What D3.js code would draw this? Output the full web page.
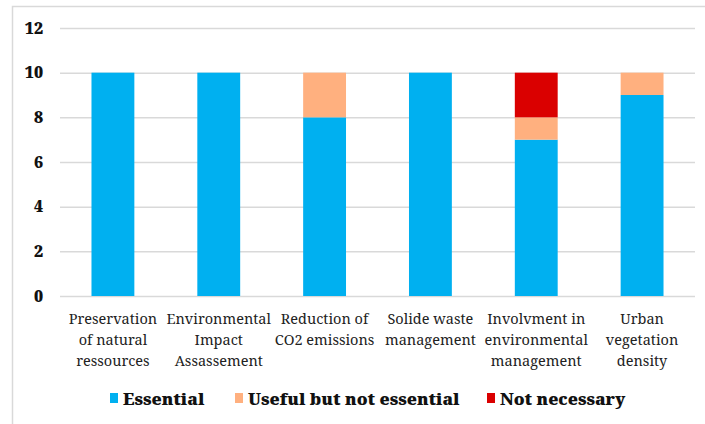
<!DOCTYPE html>
<html>
<head>
<meta charset="utf-8">
<script src="https://cdn.jsdelivr.net/npm/d3@7"></script>
<style>
  html, body { margin: 0; padding: 0; background: #fff; }
  svg { display: block; }
</style>
</head>
<body>
<svg id="chart" width="705" height="424"></svg>
<script>
// Categories (each label split into its display lines)
const categories = [
  ["Preservation", "of natural", "ressources"],
  ["Environmental", "Impact", "Assassement"],
  ["Reduction of", "CO2 emissions"],
  ["Solide waste", "management"],
  ["Involvment in", "environmental", "management"],
  ["Urban", "vegetation", "density"]
];
const seriesNames = ["Essential", "Useful but not essential", "Not necessary"];
const essential = [10, 10, 8, 10, 7, 9];
const usefulNotEssential = [0, 0, 2, 0, 1, 1];
const notNecessary = [0, 0, 0, 0, 2, 0];
const yTicks = [0, 2, 4, 6, 8, 10, 12];
const colors = ["#00B0F0", "#FFB07F", "#DA0000"];

const SERIF = '"Noto Serif", "DejaVu Serif", serif';

const svg = d3.select("#chart");
const W = 705, H = 424;

// outer chart frame
svg.append("rect")
  .attr("x", 12.5).attr("y", 6.5)
  .attr("width", W).attr("height", H)
  .attr("fill", "#fff").attr("stroke", "#d9d9d9").attr("stroke-width", 1.5);

const plot = { left: 60, right: 695, top: 28, bottom: 296 };

const rows = categories.map((c, i) => ({
  key: i,
  "Essential": essential[i],
  "Useful but not essential": usefulNotEssential[i],
  "Not necessary": notNecessary[i]
}));
const stacked = d3.stack().keys(seriesNames)(rows);

const x = d3.scaleBand()
  .domain(categories.map((c, i) => i))
  .range([plot.left, plot.right])
  .paddingInner(0.595).paddingOuter(0.2975);

const y = d3.scaleLinear().domain([0, 12]).range([plot.bottom, plot.top]);

// horizontal gridlines + value ticks
const yAxis = d3.axisLeft(y).tickValues(yTicks).tickSize(-(plot.right - plot.left)).tickPadding(17);
const gy = svg.append("g").attr("transform", `translate(${plot.left},0)`).call(yAxis);
gy.select(".domain").remove();
gy.selectAll(".tick line").attr("stroke", "#d9d9d9").attr("stroke-width", 1.5);
gy.selectAll(".tick text")
  .style("font-family", SERIF)
  .style("font-weight", "900")
  .style("font-size", "16px")
  .attr("fill", "#111");

// stacked bars
svg.append("g").selectAll("g")
  .data(stacked)
  .join("g")
  .attr("fill", (d, i) => colors[i])
  .selectAll("rect")
  .data(d => d)
  .join("rect")
  .attr("x", d => x(d.data.key))
  .attr("width", x.bandwidth())
  .attr("y", d => y(d[1]))
  .attr("height", d => y(d[0]) - y(d[1]));

// category labels
const xAxis = svg.append("g");
categories.forEach((lines, i) => {
  const cx = x(i) + x.bandwidth() / 2;
  const t = xAxis.append("text")
    .attr("x", cx)
    .attr("y", 324)
    .attr("text-anchor", "middle")
    .style("font-family", SERIF)
    .style("font-size", "14.5px")
    .attr("fill", "#222");
  lines.forEach((ln, j) => {
    t.append("tspan").attr("x", cx).attr("dy", j === 0 ? 0 : 21).text(ln);
  });
});

// legend
const legendX = [110, 235, 487];
const legend = svg.append("g");
seriesNames.forEach((name, i) => {
  legend.append("rect")
    .attr("x", legendX[i]).attr("y", 393)
    .attr("width", 8).attr("height", 10)
    .attr("fill", colors[i]);
  legend.append("text")
    .attr("x", legendX[i] + 13).attr("y", 405)
    .style("font-family", SERIF)
    .style("font-weight", "900")
    .style("font-size", "17px")
    .attr("fill", "#111")
    .text(name);
});
</script>
</body>
</html>
